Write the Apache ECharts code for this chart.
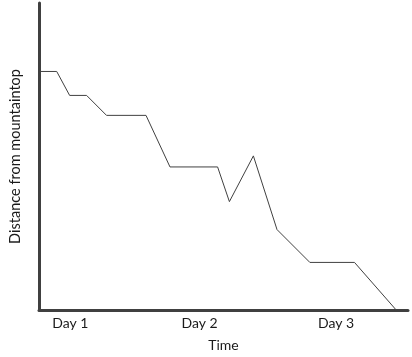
<!DOCTYPE html>
<html>
<head>
<meta charset="utf-8">
<script src="https://cdn.jsdelivr.net/npm/echarts@6/dist/echarts.min.js"></script>
<style>html,body{margin:0;padding:0;background:#fff}#c{width:412px;height:357px}</style>
</head>
<body>
<div id="c"></div>
<script>
// time (arbitrary units, 0-100) and distance (arbitrary units, 0-100)
var timeValues = [0, 4.8, 8.3, 12.9, 18.3, 29.0, 35.5, 48.4, 51.6, 58.1, 64.5, 73.4, 85.5, 96.8];
var distanceValues = [77.7, 77.7, 69.9, 69.9, 63.4, 63.4, 46.6, 46.6, 35.3, 50.2, 26.2, 15.5, 15.5, 0];
var dayLabels = ['Day 1', 'Day 2', 'Day 3'];
var dayPositions = [8.5, 43.5, 80.5];

var points = timeValues.map(function (t, i) { return [t, distanceValues[i]]; });
var font = 'Lato, "Open Sans", sans-serif';
var chart = echarts.init(document.getElementById('c'), null, {renderer: 'canvas'});
chart.setOption({
  animation: false,
  grid: {left: 36, right: 4, top: 3, bottom: 45, containLabel: false},
  xAxis: {
    type: 'value', min: 0, max: 100,
    name: 'Time', nameLocation: 'middle', nameGap: 28,
    nameTextStyle: {fontFamily: font, fontSize: 14, color: '#1a1a1a'},
    axisLine: {show: true, onZero: false, lineStyle: {color: '#404040', width: 3}},
    axisTick: {show: false},
    splitLine: {show: false},
    axisLabel: {
      customValues: dayPositions,
      margin: 6,
      fontFamily: font, fontSize: 14, color: '#1a1a1a',
      formatter: function (v) {
        var i = dayPositions.indexOf(v);
        return i >= 0 ? dayLabels[i] : '';
      }
    }
  },
  yAxis: {
    type: 'value', min: 0, max: 100,
    name: 'Distance from mountaintop', nameLocation: 'middle', nameGap: 16,
    nameTextStyle: {fontFamily: font, fontSize: 14.5, color: '#1a1a1a'},
    axisLine: {show: true, onZero: false, lineStyle: {color: '#404040', width: 3}},
    axisTick: {show: false},
    axisLabel: {show: false},
    splitLine: {show: false}
  },
  series: [{
    type: 'line',
    data: points,
    showSymbol: false,
    lineStyle: {color: '#404040', width: 1}
  }]
});
</script>
</body>
</html>
